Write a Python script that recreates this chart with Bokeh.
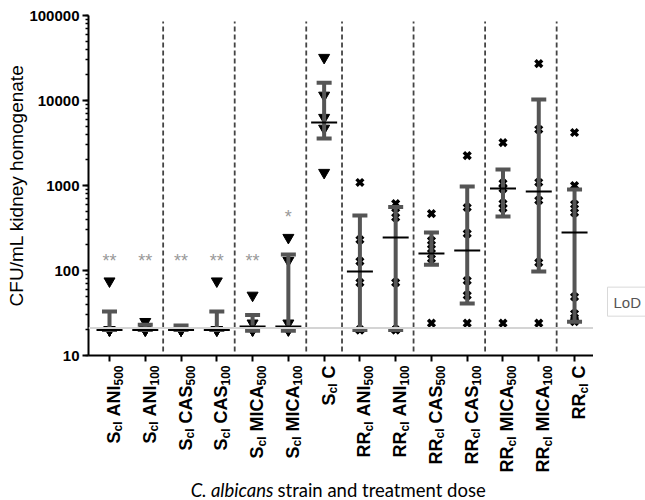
import math
from bokeh.plotting import figure
from bokeh.layouts import column, row
from bokeh.models import (Range1d, FixedTicker, LogTicker, NumeralTickFormatter, Span, Title,
                          CustomJSTickFormatter)
from bokeh.core.properties import value
from bokeh.embed import file_html
from bokeh.resources import INLINE

# ---------------- data ----------------
strains = ["S"] * 7 + ["RR"] * 7
drugs = ["ANI", "ANI", "CAS", "CAS", "MICA", "MICA", "C"] * 2
doses = ["500", "100", "500", "100", "500", "100", ""] * 2

points = [
    [75, 20, 20, 20, 20],
    [25, 20, 20, 20, 20],
    [20, 20, 20, 20, 20],
    [75, 20, 20, 20, 20],
    [51, 24, 20, 20, 20],
    [244, 131, 24, 20, 20],
    [32000, 11500, 6300, 4700, 1420],
    [1085, 230, 128, 72, 20, 20],
    [614, 540, 421, 72, 20, 20],
    [468, 225, 180, 138, 24],
    [2250, 551, 272, 76, 51, 24],
    [3200, 1060, 920, 614, 540, 24],
    [27200, 4560, 1085, 667, 124, 24],
    [4200, 1000, 600, 480, 49, 31, 26, 25],
]
centers = [20, 20, 20, 20, 22, 22, 5500, 97, 244, 158, 172, 920, 850, 280]
lowers = [20, 20, 20, 20, 19.5, 19.5, 3570, 20, 20, 117, 41, 432, 97, 25]
uppers = [33, 23, 22.5, 33, 30, 154, 16200, 443, 560, 280, 972, 1540, 10300, 900]
star_text = ["**", "**", "**", "**", "**", "*"]
star_levels = [131, 131, 131, 131, 131, 421]
lod = 21
lod_text = "LoD"
separators = [1.5, 3.5, 5.5, 6.5, 8.5, 10.5, 12.5]
y_title = "CFU/mL kidney homogenate"
x_title_italic = "C. albicans"
x_title_rest = "strain and treatment dose"

# ---------------- layout (page pixels) ----------------
TOTAL_W, TOTAL_H = 645, 500
FL, FR, FT, FB = 88, 593, 15, 355          # main frame edges
MAIN_H = 363                               # main figure height
X_START, X_END = -0.587, 13.53
Y_START, Y_END = 10, 100000
PPC = (FR - FL) / (X_END - X_START)
PPD = (FB - FT) / (math.log10(Y_END) - math.log10(Y_START))


def tick_page_x(i):
    return FL + (i - X_START) * PPC


# ---------------- main figure ----------------
p = figure(width=FR, height=MAIN_H, output_backend="svg", toolbar_location=None,
           x_range=Range1d(X_START, X_END), y_range=Range1d(Y_START, Y_END),
           y_axis_type="log",
           min_border_left=FL, min_border_right=0,
           min_border_top=FT, min_border_bottom=MAIN_H - FB)
p.outline_line_color = None
p.grid.visible = False
p.background_fill_color = "white"
p.border_fill_color = "white"

p.yaxis.ticker = LogTicker(mantissas=[1], num_minor_ticks=10)
p.yaxis.formatter = NumeralTickFormatter(format="0")
p.yaxis.major_label_text_font = "Liberation Sans"
p.yaxis.major_label_text_font_style = "bold"
p.yaxis.major_label_text_font_size = "15px"
p.yaxis.major_label_text_color = "black"
p.yaxis.major_label_standoff = 3
for ax in (p.xaxis[0], p.yaxis[0]):
    ax.axis_line_width = 2
    ax.axis_line_color = "black"
    ax.major_tick_line_width = 2
    ax.major_tick_line_color = "black"
    ax.minor_tick_line_color = "black"
    ax.minor_tick_line_width = 1.5
    ax.major_tick_in = 0
    ax.minor_tick_in = 0
    ax.major_tick_out = 6
    ax.minor_tick_out = 3
p.xaxis.ticker = FixedTicker(ticks=list(range(len(drugs))), minor_ticks=[])
p.xaxis.formatter = CustomJSTickFormatter(code="return ''")
p.xaxis.major_label_text_font_size = "0px"
p.xaxis.major_label_standoff = 0

p.add_layout(Title(text=y_title, align="center", offset=27, standoff=0,
                   text_font="Liberation Sans", text_font_style="normal",
                   text_font_size="19px", text_color="black"), "left")

# LoD line and separators
p.add_layout(Span(location=lod, dimension="width", line_color="#d4d4d4", line_width=2))
y_lo = Y_START * 10 ** (4 / PPD)
y_hi = Y_END / 10 ** (6 / PPD)
p.segment(x0=separators, x1=separators, y0=[y_lo] * len(separators), y1=[y_hi] * len(separators),
          line_color="#444444", line_width=1.8, line_dash="5 3")

# points
tri_x, tri_y, x_x, x_y = [], [], [], []
for i, vals in enumerate(points):
    for v in vals:
        if strains[i] == "S":
            tri_x.append(i); tri_y.append(v)
        else:
            x_x.append(i); x_y.append(v)
p.scatter(tri_x, tri_y, marker="inverted_triangle", size=11, color="black")
p.scatter(x_x, x_y, marker="x", size=9.5, line_color="black", line_width=3.5)

# error bars + centre lines
idx = list(range(len(centers)))
p.segment(x0=idx, x1=idx, y0=lowers, y1=uppers, line_color="#555555", line_width=4)
p.scatter(idx, uppers, marker="dash", size=15, line_color="#555555", line_width=4)
p.scatter(idx, lowers, marker="dash", size=15, line_color="#555555", line_width=4)
p.scatter(idx, centers, marker="dash", size=26, line_color="black", line_width=2)

# significance stars
p.text(x=list(range(len(star_text))), y=star_levels, text=star_text,
       text_font=value("Liberation Sans"), text_font_size="18px", text_color="#999999",
       text_align="center", text_baseline="middle")


def blank(w, h):
    f = figure(width=w, height=h, output_backend="svg", toolbar_location=None,
               x_range=Range1d(0, w), y_range=Range1d(0, h),
               x_axis_location=None, y_axis_location=None,
               min_border=0, min_border_left=0, min_border_right=0,
               min_border_top=0, min_border_bottom=0)
    f.outline_line_color = None
    f.grid.visible = False
    f.background_fill_color = "white"
    f.border_fill_color = "white"
    return f


# ---------------- right strip: LoD box ----------------
RW = TOTAL_W - FR
pr = blank(RW, MAIN_H)
box_l, box_r, box_t, box_b = 607, 660, 290, 321   # page px
pr.quad(left=[box_l - FR], right=[box_r - FR], top=[MAIN_H - box_t], bottom=[MAIN_H - box_b],
        fill_color="white", line_color="#d9d9d9", line_width=1)
pr.text(x=[613 - FR], y=[MAIN_H - 306], text=[lod_text], text_font=value("Liberation Sans"),
        text_font_size="15px", text_color="#555555", text_baseline="middle", text_align="left")

# ---------------- bottom strip: category labels + x title ----------------
BH = TOTAL_H - MAIN_H
pb = blank(TOTAL_W, BH)

MAIN, SUB = 18, 12
AW = {"S": 667, "R": 722, "A": 722, "N": 722, "I": 278, "C": 722, "M": 833,
      "c": 556, "l": 278, " ": 278}


def tw(s, size):
    return sum(AW.get(ch, 556) for ch in s) * size / 1000.0


mx, my, mt, sx, sy, st = [], [], [], [], [], []
for i in range(len(drugs)):
    tx = tick_page_x(i)
    cur = 365.0
    main_x, sub_x = tx + 4.5, tx + 9
    if doses[i]:
        sx.append(sub_x); sy.append(TOTAL_H - cur); st.append(doses[i])
        cur += tw(doses[i], SUB)
    mx.append(main_x); my.append(TOTAL_H - cur); mt.append(drugs[i])
    cur += tw(drugs[i], MAIN) + tw(" ", MAIN)
    sx.append(sub_x); sy.append(TOTAL_H - cur); st.append("cl")
    cur += tw("cl", SUB)
    mx.append(main_x); my.append(TOTAL_H - cur); mt.append(strains[i])

pb.text(x=mx, y=my, text=mt, angle=math.pi / 2, text_align="right", text_baseline="alphabetic",
        text_font=value("Liberation Sans"), text_font_style="bold", text_font_size=f"{MAIN}px",
        text_color="black")
pb.text(x=sx, y=sy, text=st, angle=math.pi / 2, text_align="right", text_baseline="alphabetic",
        text_font=value("Liberation Sans"), text_font_style="bold", text_font_size=f"{SUB}px",
        text_color="black")

pb.text(x=[273], y=[TOTAL_H - 489], text=[x_title_italic], text_align="right",
        text_baseline="alphabetic", text_font=value("Lato"), text_font_style="italic",
        text_font_size="18.5px", text_color="black")
pb.text(x=[277], y=[TOTAL_H - 489], text=[x_title_rest], text_align="left",
        text_baseline="alphabetic", text_font=value("Lato"),
        text_font_size="18.5px", text_color="black")

layout = column(row(p, pr), pb)
open("out.html", "w").write(file_html(layout, INLINE))
